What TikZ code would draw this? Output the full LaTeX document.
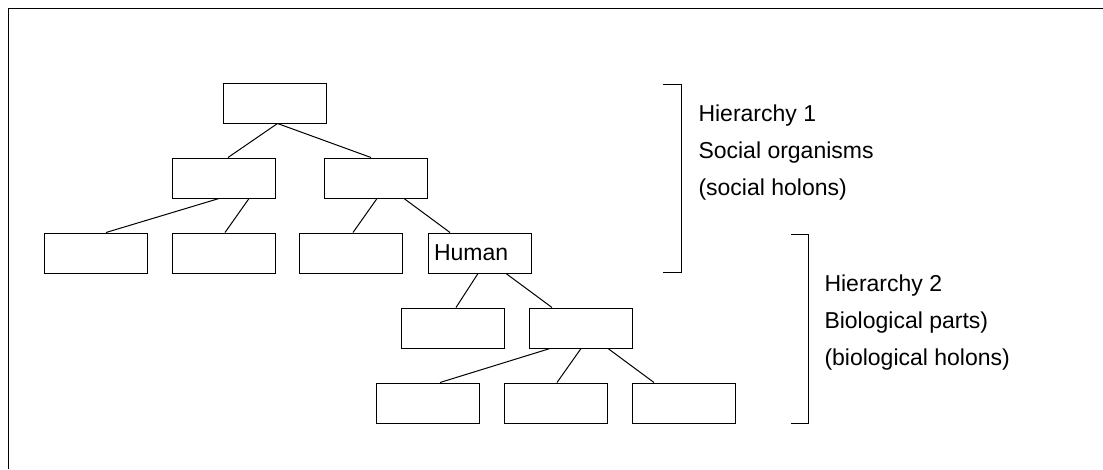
\documentclass[tikz,border=0pt]{standalone}
\usepackage{fontspec}
\setmainfont{Liberation Sans}
\begin{document}
\begin{tikzpicture}[x=1pt, y=-1pt, line width=1pt,
  box/.style={draw, rectangle, minimum width=103pt, minimum height=40pt, inner sep=0pt},
  lbl/.style={align=left, anchor=base west, inner sep=0pt, font=\fontsize{23}{37}\selectfont}]
\useasboundingbox (0,0) rectangle (1103,469);
\draw [line width=1.8pt] (8.5,469) -- (8.5,8.5) -- (1103,8.5);

\node [box] (h) at (275,103) {};
\node [box] (sa) at (223.5,178) {};
\node [box] (sb) at (376,178) {};
\node [box] (ta) at (95.5,253) {};
\node [box] (tb) at (223.5,253) {};
\node [box] (tc) at (351,253) {};
\node [box, text width=91pt, align=left, font=\fontsize{23}{28}\selectfont] (human) at (479.5,253) {Human};
\node [box] (ba) at (452.5,328) {};
\node [box] (bb) at (580.5,328) {};
\node [box] (pa) at (427.5,403) {};
\node [box] (pb) at (555.5,403) {};
\node [box] (pc) at (683.5,403) {};

\draw ([xshift=2.5pt]h.south) -- ([xshift=4.5pt]sa.north);
\draw ([xshift=2.5pt]h.south) -- ([xshift=-5pt]sb.north);
\draw ([xshift=-4.5pt]sa.south) -- ([xshift=10.5pt]ta.north);
\draw ([xshift=25.5pt]sa.south) -- ([xshift=1.5pt]tb.north);
\draw ([xshift=1pt]sb.south) -- ([xshift=2pt]tc.north);
\draw ([xshift=28pt]sb.south) -- ([xshift=-29.5pt]human.north);
\draw ([xshift=-1.5pt]human.south) -- ([xshift=3.5pt]ba.north);
\draw ([xshift=26.5pt]human.south) -- ([xshift=-28.5pt]bb.north);
\draw ([xshift=-30.5pt]bb.south) -- ([xshift=12.5pt]pa.north);
\draw ([xshift=0.5pt]bb.south) -- ([xshift=1.5pt]pb.north);
\draw ([xshift=27.5pt]bb.south) -- ([xshift=-29.5pt]pc.north);

\draw (663,84) -| (681,272) -- (663,272);
\draw (791,234) -| (808,423) -- (791,423);
\node [lbl] (hone) at (698,195) {Hierarchy 1\\Social organisms\\(social holons)};
\node [lbl] (htwo) at (824,365) {Hierarchy 2\\Biological parts)\\(biological holons)};
\end{tikzpicture}
\end{document}
